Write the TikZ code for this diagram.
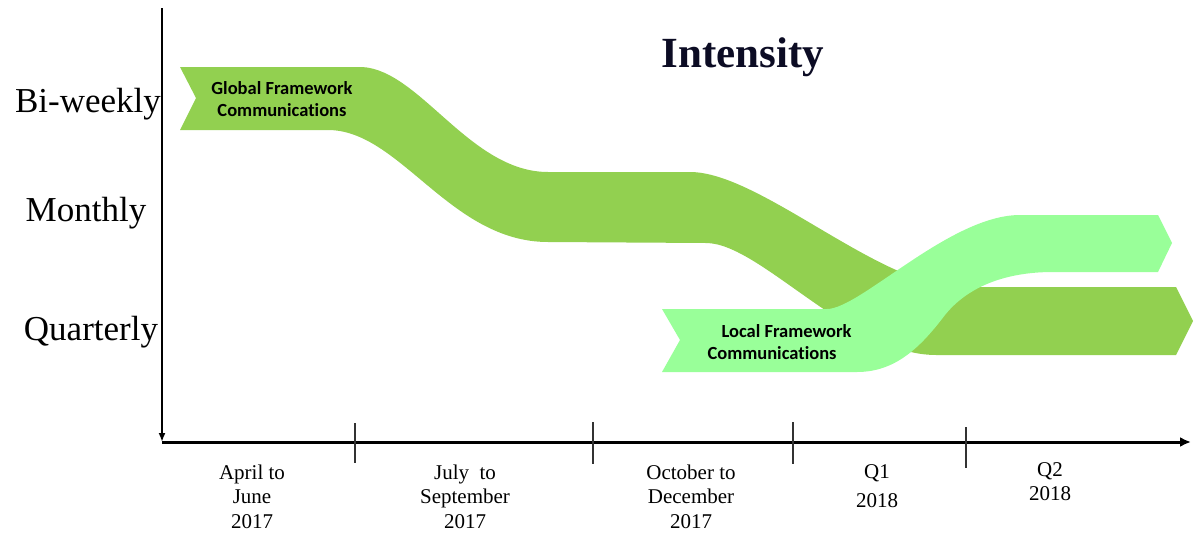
\documentclass[tikz,border=0pt]{standalone}
\usepackage{fontspec}
\setmainfont{Liberation Serif}
\newfontfamily\calibrifont[Ligatures={NoCommon}]{Carlito}
\usetikzlibrary{arrows.meta}
\definecolor{darkband}{RGB}{146,208,80}
\definecolor{lightband}{RGB}{153,255,153}
\definecolor{titleblue}{RGB}{12,12,36}
\tikzset{
  ylab/.style={font=\fontsize{35}{40}\selectfont, anchor=center},
  xlab/.style={font=\fontsize{21}{24.5}\selectfont, align=center, anchor=north},
  bandtext/.style={font=\calibrifont\bfseries\fontsize{18.5}{22}\selectfont, align=center},
  tickline/.style={line width=1.1pt, black!80},
}
\begin{document}
\begin{tikzpicture}[x=1pt,y=-1pt]
\useasboundingbox (0,0) rectangle (1199,538);
% dark green band
\fill[darkband] (180,67) -- (362,67) .. controls (420,70) and (470,172) .. (548,172)
  -- (690,172) .. controls (760,172) and (880,287) .. (960,287)
  -- (1176,287) -- (1193,321) -- (1176,355) -- (936,355)
  .. controls (850,355) and (760,243) .. (706,243)
  -- (548,242) .. controls (450,242) and (400,130) .. (328,130)
  -- (180,130) -- (196,98) -- cycle;
% light green band
\fill[lightband] (662,309) -- (827,309) .. controls (860,309) and (950,215) .. (1020,215)
  -- (1158,215) -- (1172,243) -- (1158,272) -- (1053,272)
  .. controls (1000,272) and (965,290) .. (945,315)
  .. controls (920,348) and (895,372) .. (857,372)
  -- (662,372) -- (680,340) -- cycle;
% texts on bands
\node[bandtext] (global) at (282,99) {Global Framework\\Communications};
\node[bandtext, align=left, anchor=west] (local) at (704,342) {\hspace{14pt}Local Framework\\Communications};
% title
\node[font=\bfseries\fontsize{43}{48}\selectfont, text=titleblue] (title) at (743,57) {Intensity};
% axes
\coordinate (ytop) at (162,8);
\coordinate (origin) at (162,442);
\coordinate (xend) at (1191,442);
\draw[line width=2.2pt, -{Latex[length=9pt,width=7pt]}] (ytop) -- (origin);
\draw[line width=3pt, -{Latex[length=11pt,width=10pt]}] (origin) -- (xend);
% ticks
\draw[tickline] (355,423) -- (355,463);
\draw[tickline] (593,422) -- (593,464);
\draw[tickline] (793,422) -- (793,464);
\draw[tickline] (966,427) -- (966,468);
% y labels
\node[ylab] (biweekly) at (88,104) {Bi-weekly};
\node[ylab] (monthly) at (86,213) {Monthly};
\node[ylab] (quarterly) at (91,332) {Quarterly};
% x labels
\node[xlab] (apr) at (252,461) {April to\\June\\2017};
\node[xlab] (jul) at (465,461) {July\ \ to\\September\\2017};
\node[xlab] (oct) at (691,461) {October to\\December\\2017};
\node[xlab, font=\fontsize{21}{29}\selectfont] (q1) at (877,461) {Q1\\2018};
\node[xlab] (q2) at (1050,459) {Q2\\2018};
\end{tikzpicture}
\end{document}
